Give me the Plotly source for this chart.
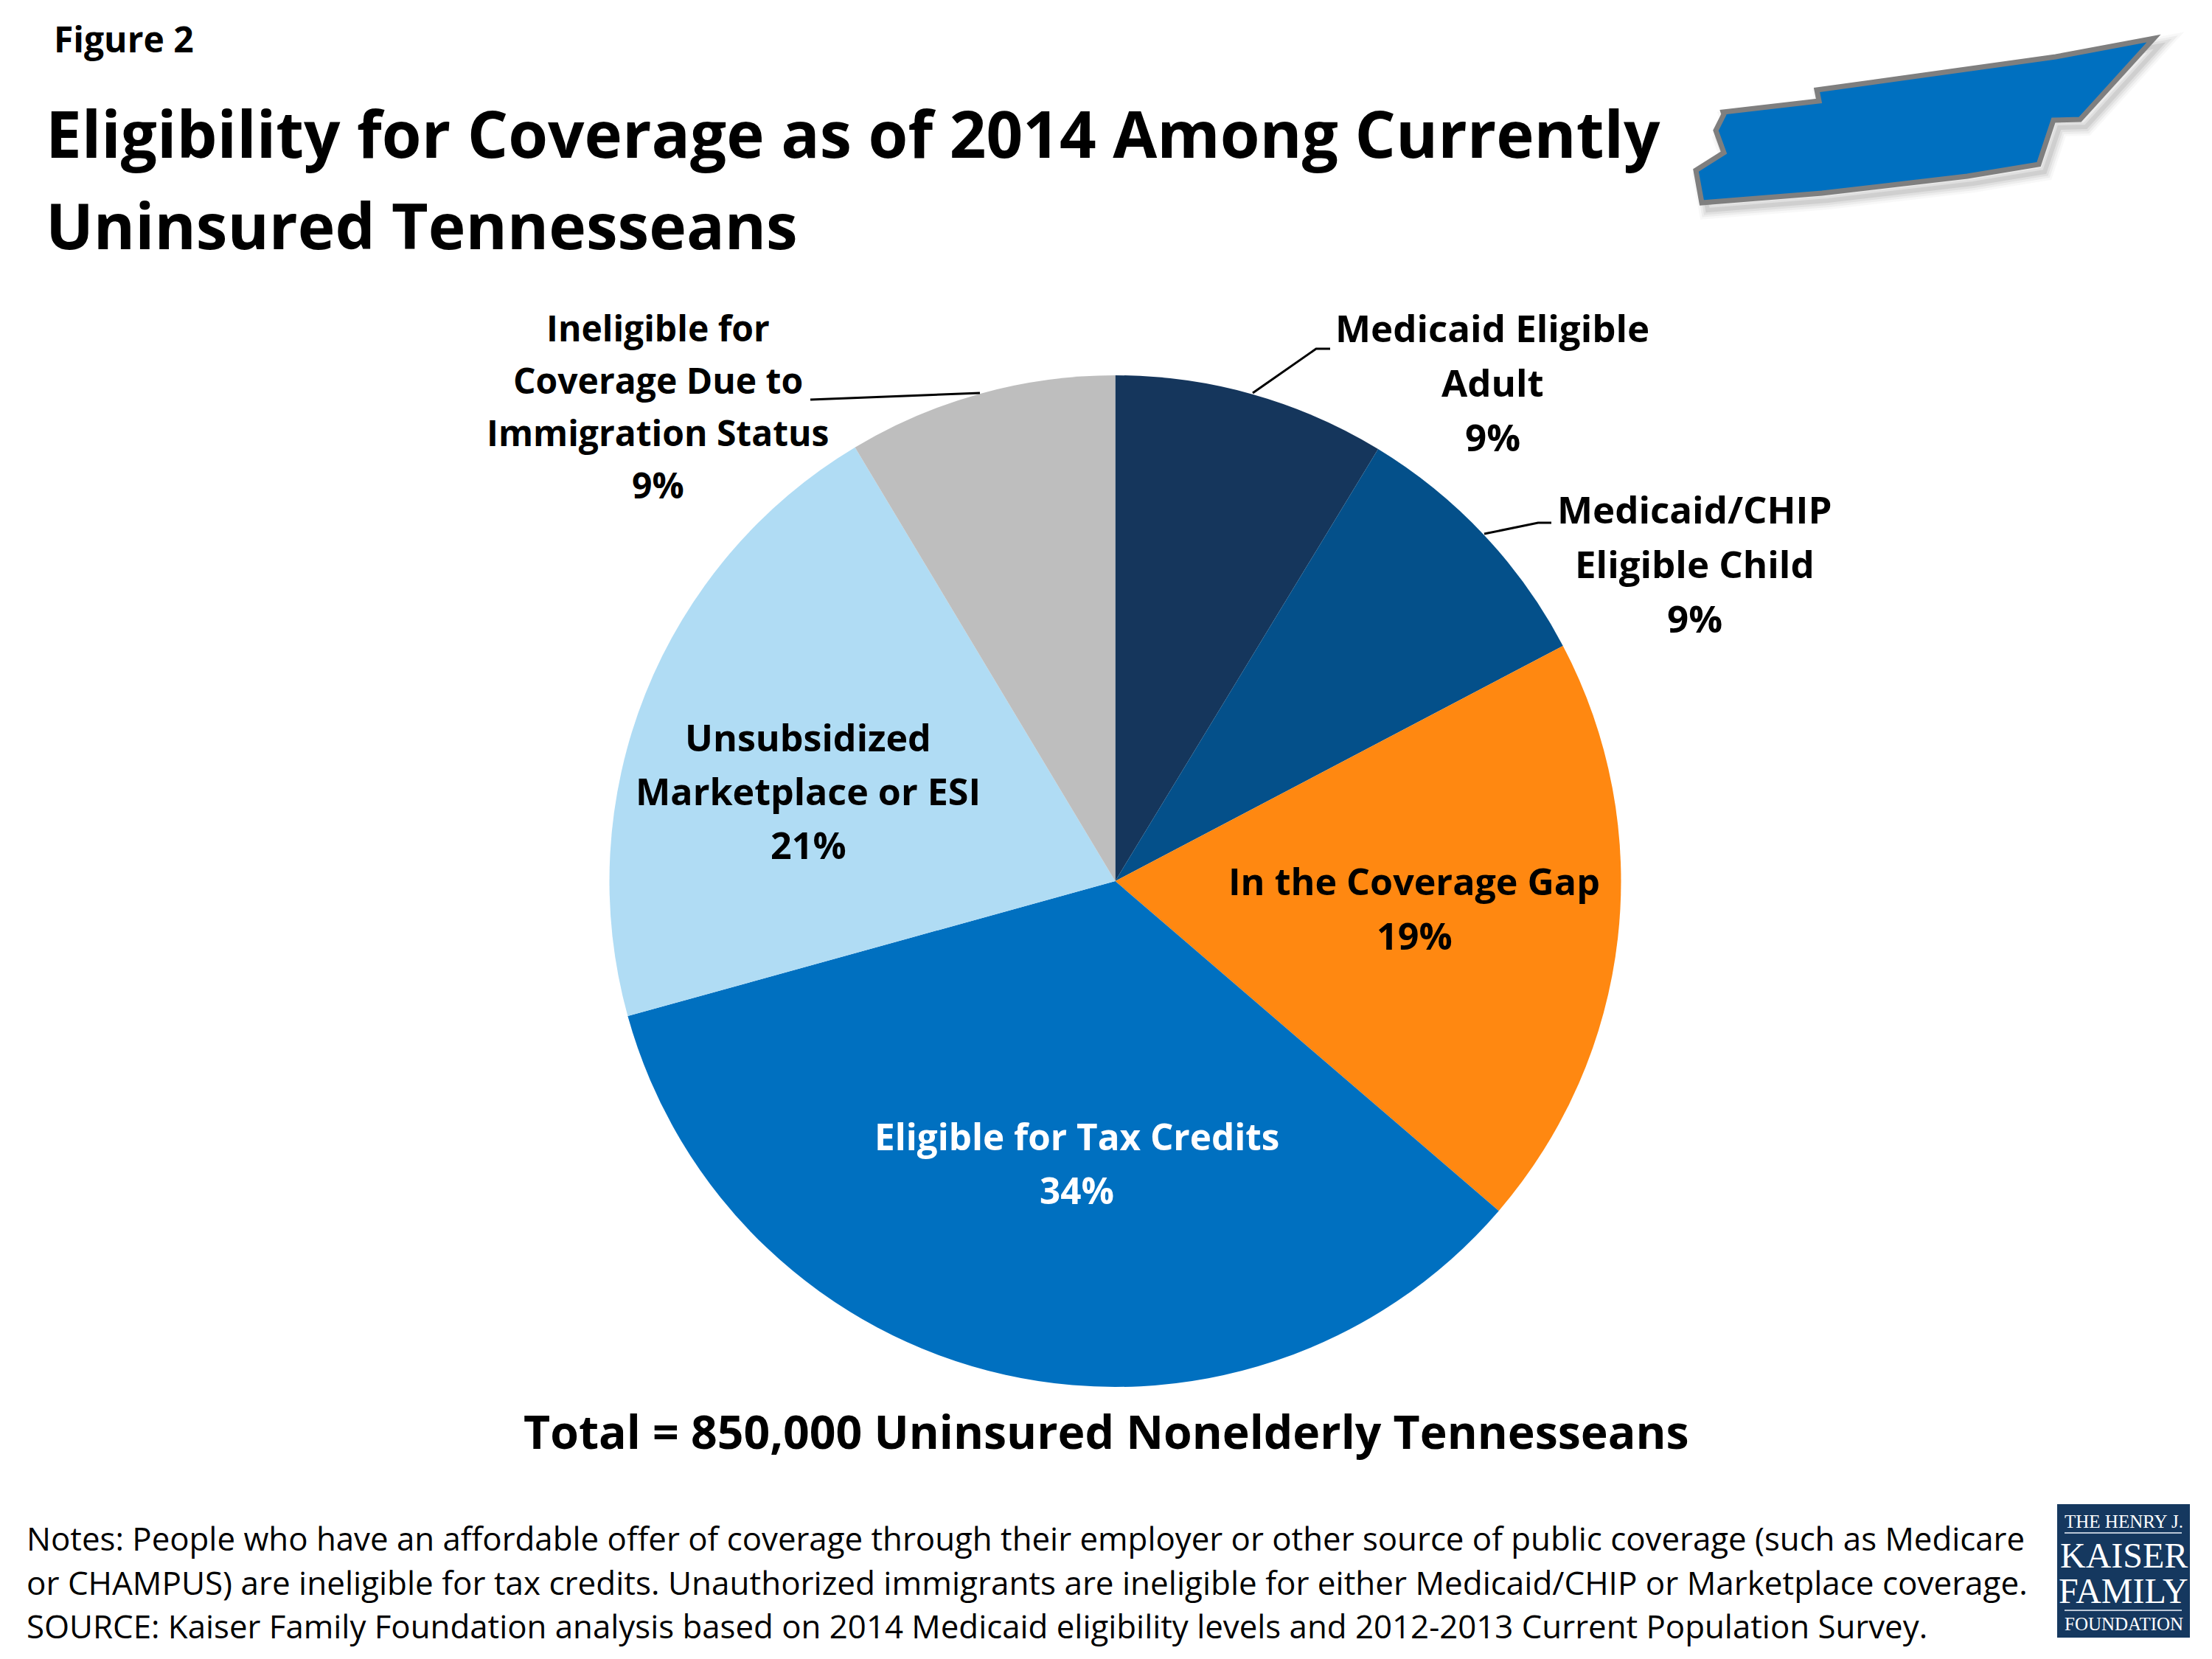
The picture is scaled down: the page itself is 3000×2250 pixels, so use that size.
import plotly.graph_objects as go

# ---- data
categories = ["Medicaid Eligible<br>Adult", "Medicaid/CHIP<br>Eligible Child", "In the Coverage Gap",
              "Eligible for Tax Credits", "Unsubsidized<br>Marketplace or ESI",
              "Ineligible for<br>Coverage Due to<br>Immigration Status"]
slice_shares = [8.7, 8.6, 19.0, 34.4, 20.7, 8.6]
pct_labels = ["9%", "9%", "19%", "34%", "21%", "9%"]
slice_colors = ["#15365C", "#04508A", "#FF8811", "#0070C0", "#B0DCF4", "#BEBEBE"]
label_colors = ["#000000", "#000000", "#000000", "#FFFFFF", "#000000", "#000000"]
label_centers_x = [2024, 2298, 1918, 1460, 1096, 892]
label_first_y = [444, 690, 1194, 1540, 999, 444]
label_pitch = [74, 74, 74, 73, 73, 71]
label_sizes = [51, 51, 50.2, 49.4, 50.2, 48]

figure_no = "Figure 2"
title_lines = ["Eligibility for Coverage as of 2014 Among Currently", "Uninsured Tennesseans"]
title_sizes = [87, 85.8]
total_text = "Total = 850,000 Uninsured Nonelderly Tennesseans"
note_lines = [
    "Notes: People who have an affordable offer of coverage through their employer or other source of public coverage (such as Medicare",
    "or CHAMPUS) are ineligible for tax credits. Unauthorized immigrants are ineligible for either Medicaid/CHIP or Marketplace coverage.",
    "SOURCE: Kaiser Family Foundation analysis based on 2014 Medicaid eligibility levels and 2012-2013 Current Population Survey.",
]
note_sizes = [43.8, 44, 43.8]
leaders = [
    [(1099, 542), (1329, 533)],
    [(1699, 533), (1785, 473), (1804, 473)],
    [(2013, 724), (2086, 709), (2104, 709)],
]
state_outline = [(2308, 275), (2300, 231), (2338, 207), (2327, 177), (2338, 155), (2337, 152),
                 (2467, 137), (2464, 122), (2788, 77), (2921, 52), (2821, 162), (2785, 163),
                 (2765, 223), (2668, 239), (2471, 262)]
logo_lines = [("THE HENRY J.", 2063, 25), ("KAISER", 2109, 48), ("FAMILY", 2157, 48), ("FOUNDATION", 2202, 25)]

FONT = "Open Sans"
W, H = 3000, 2250
CX, CY, R = 1512.5, 1195, 686

fig = go.Figure(go.Pie(
    values=slice_shares, labels=categories, sort=False, direction="clockwise", rotation=0,
    marker=dict(colors=slice_colors, line=dict(width=0)), textinfo="none", hoverinfo="label",
    domain=dict(x=[(CX - R) / W, (CX + R) / W], y=[1 - (CY + R) / H, 1 - (CY - R) / H]),
    showlegend=False,
))

def txt(x, y, s, size, bold=False, color="#000", anchor="center", family=FONT):
    fig.add_annotation(x=x, y=y, xref="x", yref="y", text=f"<b>{s}</b>" if bold else s, showarrow=False,
                       xanchor=anchor, yanchor="middle", align=anchor,
                       font=dict(family=family, size=size, color=color))

def polygon(points):
    return "M" + " L".join(f"{x},{y}" for x, y in points) + " Z"

# state shape: soft shadow, then fill
for width, op in [(24, .025), (18, .04), (12, .05), (6, .07)]:
    fig.add_shape(type="path", xref="x", yref="y", path=polygon([(x + 8, y + 10) for x, y in state_outline]),
                  fillcolor="rgba(0,0,0,0.05)", line=dict(color="#000", width=width), opacity=op, layer="below")
fig.add_shape(type="path", xref="x", yref="y", path=polygon(state_outline), fillcolor="#0070C0",
              line=dict(color="#7F7F7F", width=7))

for pts in leaders:
    fig.add_shape(type="path", xref="x", yref="y", path="M" + " L".join(f"{x},{y}" for x, y in pts),
                  line=dict(color="#000", width=3))

# logo
fig.add_shape(type="rect", xref="x", yref="y", x0=2790, x1=2970, y0=2040, y1=2221, fillcolor="#15385F", line=dict(width=0))
for y in (2079, 2184):
    fig.add_shape(type="line", xref="x", yref="y", x0=2800, x1=2959, y0=y, y1=y, line=dict(color="#B9C6D6", width=2))
for s, y, size in logo_lines:
    txt(2880, y, s, size, color="#FFFFFF", family="Liberation Serif")

txt(71, 52, figure_no, 48, True, anchor="left")
for s, y, size in zip(title_lines, (180, 304), title_sizes):
    txt(60, y, s, size, True, anchor="left")

for name, pct, x, y0, c, p, size in zip(categories, pct_labels, label_centers_x, label_first_y, label_colors, label_pitch, label_sizes):
    lines = name.split("<br>") + [pct]
    for i, s in enumerate(lines):
        txt(x, y0 + i * p, s, size, True, c)

txt(1500, 1940, total_text, 62.5, True)
for s, y, size in zip(note_lines, (2086, 2146, 2205), note_sizes):
    txt(34, y, s, size, anchor="left")

fig.update_layout(
    width=W, height=H, margin=dict(l=0, r=0, t=0, b=0), paper_bgcolor="#FFFFFF", plot_bgcolor="rgba(0,0,0,0)",
    xaxis=dict(range=[0, W], visible=False, domain=[0, 1], fixedrange=True),
    yaxis=dict(range=[H, 0], visible=False, domain=[0, 1], fixedrange=True),
)
fig.write_html("out.html", config=dict(displayModeBar=False), post_script="document.body.style.margin='0';")
